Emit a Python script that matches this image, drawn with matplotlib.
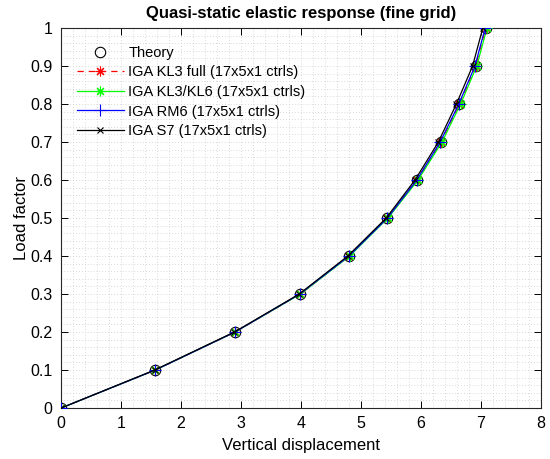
import numpy as np
import matplotlib.pyplot as plt
from matplotlib.ticker import AutoMinorLocator

plt.rcParams['font.family'] = ['Liberation Sans', 'DejaVu Sans']

# Load steps and vertical displacements for each model
load = [0.0, 0.1, 0.2, 0.3, 0.4, 0.5, 0.6, 0.7, 0.8, 0.9, 1.0]
disp_theory = [0.0, 1.57, 2.90, 3.99, 4.80, 5.44, 5.93, 6.33, 6.64, 6.92, 7.08]
disp_kl3 = [0.0, 1.57, 2.90, 3.99, 4.80, 5.44, 5.93, 6.33, 6.64, 6.91, 7.08]
disp_kl3kl6 = [0.0, 1.57, 2.90, 3.99, 4.81, 5.45, 5.95, 6.35, 6.66, 6.93, 7.10]
disp_rm6 = [0.0, 1.57, 2.90, 3.98, 4.80, 5.44, 5.93, 6.32, 6.63, 6.90, 7.07]
disp_s7 = [0.0, 1.56, 2.89, 3.97, 4.78, 5.42, 5.90, 6.29, 6.59, 6.86, 7.03]

# asterisk marker: 8 spokes from the centre
asterisk = (8, 2, 0)

fig = plt.figure(figsize=(5.5, 4.59), dpi=100)
ax = fig.add_axes([0.111, 0.111, 0.8726, 0.828])

ax.plot(disp_theory, load, 'o', color='black', mfc='none', ms=7.5, mew=0.8,
        label='Theory', zorder=3)
ax.plot(disp_kl3, load, '--', marker=asterisk, color='red', ms=7, lw=0.9,
        mew=0.8, dashes=(5, 4), label='IGA KL3 full (17x5x1 ctrls)', zorder=4)
ax.plot(disp_kl3kl6, load, '-', marker=asterisk, color='#00ff00', ms=7, lw=0.9,
        mew=0.8, label='IGA KL3/KL6 (17x5x1 ctrls)', zorder=4)
ax.plot(disp_rm6, load, '-+', color='blue', ms=8, lw=0.9, mew=0.8,
        label='IGA RM6 (17x5x1 ctrls)', zorder=5)
ax.plot(disp_s7, load, '-x', color='black', ms=5, lw=0.9, mew=0.8,
        label='IGA S7 (17x5x1 ctrls)', zorder=6)

ax.set_xlim(0, 8)
ax.set_ylim(0, 1)
ax.set_xticks(np.arange(0, 9, 1))
ax.set_yticks(np.arange(0, 1.01, 0.1))
ax.set_yticklabels(['0', '0.1', '0.2', '0.3', '0.4', '0.5', '0.6', '0.7', '0.8', '0.9', '1'])
ax.xaxis.set_minor_locator(AutoMinorLocator(5))
ax.yaxis.set_minor_locator(AutoMinorLocator(5))
ax.grid(which='both', color='#cccccc', linestyle=(0, (1, 2.5)), linewidth=0.6)
ax.set_axisbelow(True)
ax.tick_params(which='major', direction='in', top=True, right=True, length=5,
               width=0.7, labelsize=11.5, pad=6)
ax.tick_params(which='minor', length=0)
for s in ax.spines.values():
    s.set_linewidth(0.8)
    s.set_color('#262626')

ax.set_xlabel('Vertical displacement', fontsize=12, labelpad=5)
ax.set_ylabel('Load factor', fontsize=12, labelpad=1)
ax.set_title('Quasi-static elastic response (fine grid)', fontsize=12,
             fontweight='bold', pad=7)

ax.legend(loc='upper left', bbox_to_anchor=(0.0, 0.995), frameon=False,
          fontsize=10.5, handlelength=3.2, labelspacing=0.38, borderpad=0.6,
          handletextpad=0.3)

fig.savefig('out.png', dpi=100)
